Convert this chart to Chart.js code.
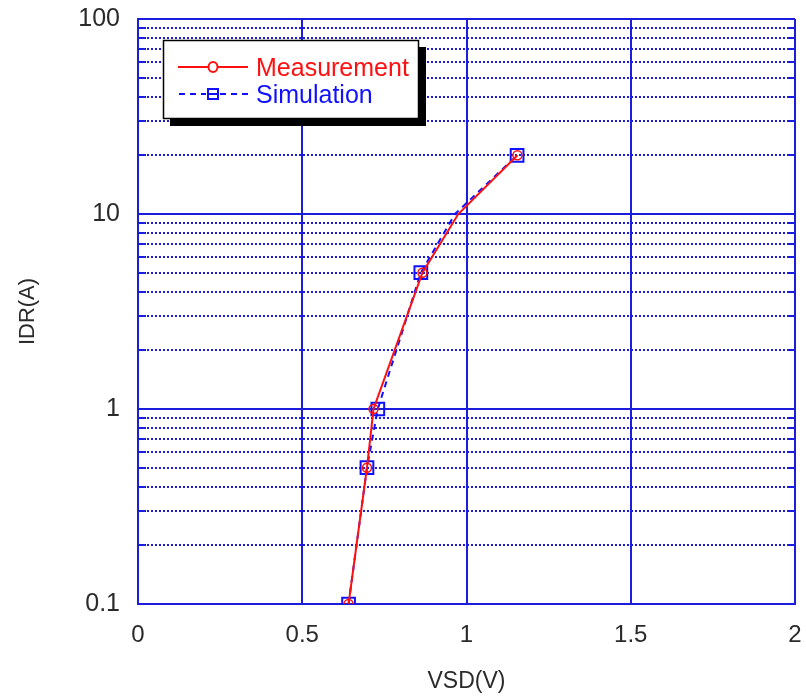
<!DOCTYPE html>
<html>
<head>
<meta charset="utf-8">
<script src="https://cdn.jsdelivr.net/npm/chart.js@4/dist/chart.umd.min.js"></script>
<style>
html,body{margin:0;padding:0;background:#fff;}
#wrap{position:relative;width:806px;height:696px;}
</style>
</head>
<body>
<div id="wrap"><canvas id="c" width="806" height="696"></canvas></div>
<script>
// ---- data ----
const measVsd = [0.641, 0.697, 0.717, 0.866, 0.975, 1.155];
const measIdr = [0.1, 0.5, 1, 5, 10, 20];
const measMarker = [true, true, true, true, false, true];
const simVsd = [0.641, 0.697, 0.730, 0.861, 0.965, 1.154];
const simIdr = [0.1, 0.5, 1, 5, 10, 20];
const simMarker = [true, true, true, true, false, true];
const xTicks = [0, 0.5, 1, 1.5, 2];
const yDecades = [0.1, 1, 10, 100];
const seriesNames = ["Measurement", "Simulation"];
const xTitle = "VSD(V)";
const yTitle = "IDR(A)";

const BLUE = '#1c1cdc';
const RED = '#ff1010';
const SBLUE = '#1010ff';
const TXT = '#2a2a2a';
const FONT = "'Liberation Sans', Arial, sans-serif";

const yAll = [];
for (let d = 0; d < yDecades.length; d++) {
  const base = yDecades[d];
  yAll.push(base);
  if (d < yDecades.length - 1) for (let k = 2; k <= 9; k++) yAll.push(+(base * k).toPrecision(3));
}
const isDecade = v => yDecades.some(d => Math.abs(d - v) < 1e-9);

const innerTicks = {
  id: 'innerTicks',
  afterDatasetsDraw(chart) {
    const {ctx, chartArea: a} = chart;
    const ys = chart.scales.y;
    ctx.save();
    ctx.strokeStyle = BLUE; ctx.lineWidth = 2;
    yAll.forEach(v => {
      if (isDecade(v)) return;
      const py = Math.round(ys.getPixelForValue(v));
      ctx.beginPath();
      ctx.moveTo(a.left, py); ctx.lineTo(a.left + 8, py);
      ctx.moveTo(a.right - 8, py); ctx.lineTo(a.right, py);
      ctx.stroke();
    });
    ctx.restore();
  }
};

const boxLegend = {
  id: 'boxLegend',
  afterDraw(chart) {
    const ctx = chart.ctx;
    const x = 163, y = 40, w = 256, h = 79, sh = 7;
    ctx.save();
    ctx.fillStyle = '#000';
    ctx.fillRect(x + sh, y + sh, w, h);
    ctx.fillStyle = '#fff';
    ctx.fillRect(x, y, w, h);
    ctx.strokeStyle = '#000'; ctx.lineWidth = 1.5;
    ctx.strokeRect(x + 0.5, y + 0.5, w - 1, h - 1);
    // measurement row
    ctx.strokeStyle = RED; ctx.lineWidth = 2;
    ctx.beginPath(); ctx.moveTo(178, 67); ctx.lineTo(248, 67); ctx.stroke();
    ctx.fillStyle = '#fff';
    ctx.beginPath(); ctx.ellipse(213, 67, 4.5, 5, 0, 0, Math.PI * 2); ctx.fill(); ctx.stroke();
    // simulation row
    ctx.strokeStyle = SBLUE; ctx.lineWidth = 2;
    ctx.setLineDash([6, 5]);
    ctx.beginPath(); ctx.moveTo(179, 94); ctx.lineTo(206, 94); ctx.moveTo(220, 94); ctx.lineTo(250, 94); ctx.stroke();
    ctx.setLineDash([]);
    ctx.strokeRect(208, 89, 10, 10);
    ctx.beginPath(); ctx.moveTo(208, 94); ctx.lineTo(218, 94); ctx.stroke();
    ctx.font = "25px " + FONT;
    ctx.textBaseline = 'alphabetic';
    ctx.fillStyle = RED; ctx.fillText(seriesNames[0], 256, 76);
    ctx.fillStyle = SBLUE; ctx.fillText(seriesNames[1], 256, 103);
    ctx.restore();
  }
};

new Chart(document.getElementById('c'), {
  type: 'scatter',
  data: {
    datasets: [
      {
        label: seriesNames[0],
        data: measVsd.map((v, i) => ({x: v, y: measIdr[i]})),
        showLine: true,
        borderColor: RED, borderWidth: 2,
        pointStyle: 'circle',
        pointRadius: measMarker.map(m => m ? 4.5 : 0),
        pointBorderColor: RED, pointBackgroundColor: 'rgba(0,0,0,0)', pointBorderWidth: 1.5,
        tension: 0
      },
      {
        label: seriesNames[1],
        data: simVsd.map((v, i) => ({x: v, y: simIdr[i]})),
        showLine: true,
        borderColor: SBLUE, borderWidth: 2, borderDash: [6, 5],
        pointStyle: 'rect',
        pointRadius: simMarker.map(m => m ? 9 : 0),
        pointBorderColor: SBLUE, pointBackgroundColor: 'rgba(0,0,0,0)', pointBorderWidth: 2,
        tension: 0
      }
    ]
  },
  options: {
    responsive: false, animation: false,
    layout: {padding: {top: 19, right: 11, left: 0, bottom: 0}},
    plugins: {legend: {display: false}, tooltip: {enabled: false}},
    scales: {
      x: {
        type: 'linear', min: 0, max: 2,
        afterBuildTicks: s => { s.ticks = xTicks.map(v => ({value: v})); },
        afterFit: s => { s.height = 92; s.paddingLeft = 0; s.paddingRight = 0; },
        ticks: {color: TXT, font: {family: FONT, size: 24}, padding: 17, maxRotation: 0,
          callback: v => String(v)},
        grid: {color: BLUE, lineWidth: 2, drawTicks: false},
        border: {color: BLUE, width: 2},
        title: {display: true, text: xTitle, color: TXT, font: {family: FONT, size: 23}, padding: {top: 0, bottom: 1}}
      },
      y: {
        type: 'logarithmic', min: 0.1, max: 100,
        afterBuildTicks: s => { s.ticks = yAll.map(v => ({value: v, major: isDecade(v)})); },
        afterFit: s => { s.width = 138; s.paddingTop = 0; s.paddingBottom = 0; },
        ticks: {color: TXT, font: {family: FONT, size: 25}, padding: 18, autoSkip: false,
          callback: v => isDecade(v) ? String(v) : ''},
        grid: {
          drawTicks: false,
          color: BLUE,
          lineWidth: 2
        },
        border: {
          color: BLUE, width: 2,
          dash: c => (c.tick && !isDecade(c.tick.value)) ? [2, 2] : []
        },
        title: {display: true, text: yTitle, color: TXT, font: {family: FONT, size: 22}, padding: {top: 15, bottom: 0}}
      }
    }
  },
  plugins: [innerTicks, boxLegend]
});
</script>
</body>
</html>
